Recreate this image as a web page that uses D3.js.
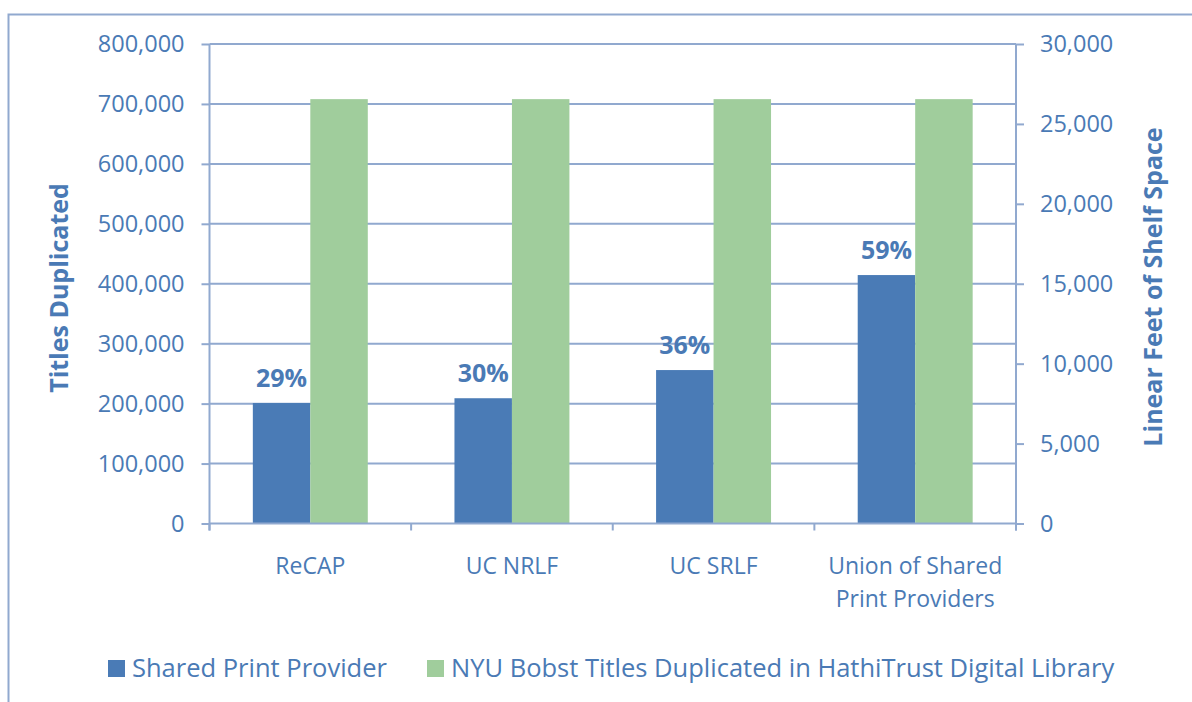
<!DOCTYPE html>
<html>
<head>
<meta charset="utf-8">
<script src="https://cdn.jsdelivr.net/npm/d3@7"></script>
<style>
  html, body { margin: 0; padding: 0; background: #fff; }
  svg { display: block; font-family: "Open Sans", "Noto Sans", sans-serif; }
</style>
</head>
<body>
<svg id="chart" width="1192" height="702"></svg>
<script>
const categories = ["ReCAP", "UC NRLF", "UC SRLF", "Union of Shared Print Providers"];
const categoryLines = [["ReCAP"], ["UC NRLF"], ["UC SRLF"], ["Union of Shared", "Print Providers"]];
const seriesNames = ["Shared Print Provider", "NYU Bobst Titles Duplicated in HathiTrust Digital Library"];
const sharedPrint = [201000, 209000, 256000, 414500];
const hathiTrust = [708000, 708000, 708000, 708000];
const pctLabels = ["29%", "30%", "36%", "59%"];
const leftTicks = [0, 100000, 200000, 300000, 400000, 500000, 600000, 700000, 800000];
const rightTicks = [0, 5000, 10000, 15000, 20000, 25000, 30000];

const textColor = "#4a7ab5";
const lineColor = "#91a9cf";
const blue = "#4a7bb6";
const green = "#a0cd9c";

const svg = d3.select("#chart");

// outer frame
svg.append("path")
  .attr("d", "M8.5,702 L8.5,14.5 L1192,14.5")
  .attr("fill", "none").attr("stroke", lineColor).attr("stroke-width", 2);

const plotL = 209.5, plotR = 1016, plotT = 44, plotB = 523.5;

const x0 = d3.scaleBand().domain(categories).range([plotL, plotR]).paddingInner(0).paddingOuter(0);
const x1 = d3.scaleBand().domain(seriesNames).range([0, x0.bandwidth()]).paddingInner(0).paddingOuter(0.754);
const y = d3.scaleLinear().domain([0, 800000]).range([plotB, plotT]);
const y2 = d3.scaleLinear().domain([0, 30000]).range([plotB, plotT]);

// gridlines
svg.append("g").selectAll("line").data(leftTicks.filter(d => d > 0)).join("line")
  .attr("x1", plotL).attr("x2", plotR)
  .attr("y1", d => y(d)).attr("y2", d => y(d))
  .attr("stroke", lineColor).attr("stroke-width", 2);

// bars
const data = categories.map((c, i) => ({ c, vals: [sharedPrint[i], hathiTrust[i]], pct: pctLabels[i] }));
const colors = [blue, green];
const groups = svg.append("g").selectAll("g").data(data).join("g")
  .attr("transform", d => `translate(${x0(d.c)},0)`);
groups.selectAll("rect").data(d => d.vals.map((v, j) => ({ v, j }))).join("rect")
  .attr("x", d => x1(seriesNames[d.j]))
  .attr("width", x1.bandwidth())
  .attr("y", d => y(d.v))
  .attr("height", d => y(0) - y(d.v))
  .attr("fill", d => colors[d.j]);

// percentage labels
groups.append("text")
  .attr("x", x1(seriesNames[0]) + x1.bandwidth() / 2)
  .attr("y", d => y(d.vals[0]) - 16)
  .attr("text-anchor", "middle")
  .attr("fill", textColor)
  .attr("font-weight", "bold")
  .attr("font-size", 25)
  .text(d => d.pct);

// left axis
const yAxis = d3.axisLeft(y).tickValues(leftTicks).tickSize(8).tickPadding(17)
  .tickFormat(d3.format(","));
const gy = svg.append("g").attr("transform", `translate(${plotL},0)`).call(yAxis);
gy.select(".domain").attr("stroke", lineColor).attr("stroke-width", 2).attr("d", `M0,${plotT}V${plotB + 7}`);
gy.selectAll(".tick line").attr("stroke", lineColor).attr("stroke-width", 2);
gy.selectAll(".tick text").attr("fill", textColor).attr("font-size", 23.5).attr("font-family", "Open Sans");

// right axis
const yAxis2 = d3.axisRight(y2).tickValues(rightTicks).tickSize(8).tickPadding(16)
  .tickFormat(d3.format(","));
const gy2 = svg.append("g").attr("transform", `translate(${plotR},0)`).call(yAxis2);
gy2.select(".domain").attr("stroke", lineColor).attr("stroke-width", 2).attr("d", `M0,${plotT}V${plotB + 7}`);
gy2.selectAll(".tick line").attr("stroke", lineColor).attr("stroke-width", 2);
gy2.selectAll(".tick text").attr("fill", textColor).attr("font-size", 23.5).attr("font-family", "Open Sans");

// bottom axis
const xAxis = d3.axisBottom(x0).tickSize(0).tickFormat("");
const gx = svg.append("g").attr("transform", `translate(0,${plotB})`).call(xAxis);
gx.select(".domain").attr("stroke", lineColor).attr("stroke-width", 2).attr("d", `M${plotL},0H${plotR}`);
const bounds = categories.map(c => x0(c)).concat([plotR]);
gx.selectAll(".bound").data(bounds).join("line").attr("class", "bound")
  .attr("x1", d => d).attr("x2", d => d).attr("y1", 0).attr("y2", 7)
  .attr("stroke", lineColor).attr("stroke-width", 2);
const cl = svg.append("g").selectAll("text").data(categories.map((c, i) => ({ c, lines: categoryLines[i] }))).join("text")
  .attr("x", d => x0(d.c) + x0.bandwidth() / 2)
  .attr("y", 574)
  .attr("text-anchor", "middle")
  .attr("fill", textColor)
  .attr("font-size", 23);
cl.selectAll("tspan").data(d => d.lines.map(l => ({ l, x: x0(d.c) + x0.bandwidth() / 2 }))).join("tspan")
  .attr("x", d => d.x)
  .attr("dy", (d, i) => i === 0 ? 0 : 33)
  .text(d => d.l);

// axis titles
svg.append("text")
  .attr("transform", `translate(68,288) rotate(-90)`)
  .attr("text-anchor", "middle").attr("fill", textColor)
  .attr("font-weight", "bold").attr("font-size", 25)
  .text("Titles Duplicated");
svg.append("text")
  .attr("transform", `translate(1162,287) rotate(-90)`)
  .attr("text-anchor", "middle").attr("fill", textColor)
  .attr("font-weight", "bold").attr("font-size", 25)
  .text("Linear Feet of Shelf Space");

// legend
const legendX = [108, 427];
const lg = svg.append("g").selectAll("g").data(seriesNames).join("g")
  .attr("transform", (d, i) => `translate(${legendX[i]},660)`);
lg.append("rect").attr("width", 17).attr("height", 17).attr("fill", (d, i) => colors[i]);
lg.append("text").attr("x", 24).attr("y", 17)
  .attr("fill", textColor).attr("font-size", 25.5)
  .text(d => d);
</script>
</body>
</html>
